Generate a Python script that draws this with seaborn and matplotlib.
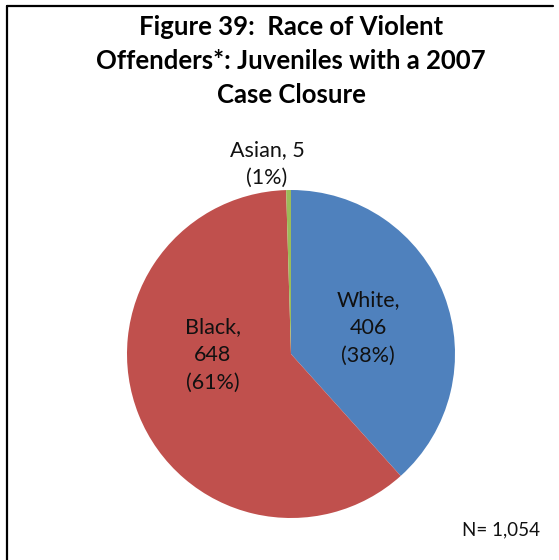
import matplotlib
matplotlib.use("Agg")
import matplotlib.pyplot as plt
import seaborn as sns
from matplotlib.lines import Line2D

# data
races = ["White", "Black", "Asian"]
counts = [406, 648, 5]
pct_labels = ["38%", "61%", "1%"]
total_label = "N= 1,054"
title = "Figure 39:  Race of Violent\nOffenders*: Juveniles with a 2007\nCase Closure"

sns.set_theme(style="white")
plt.rcParams["font.family"] = ["Lato", "DejaVu Sans"]

colors = ["#4F81BD", "#C0504D", "#9BBB59"]

W, H = 559, 560
fig = plt.figure(figsize=(W / 100, H / 100), dpi=100)

# pie geometry in pixels
cx, cy, r = 291, 354, 164
ax = fig.add_axes([(cx - r) / W, 1 - (cy + r) / H, 2 * r / W, 2 * r / H])
ax.pie(counts, colors=colors, startangle=90, counterclock=False,
       wedgeprops=dict(linewidth=0))
ax.set_xlim(-1, 1)
ax.set_ylim(-1, 1)
ax.set_aspect("equal", adjustable="box")

# label positions (in radius units from the centre)
label_pos = {"White": (0.47, 0.16, "{n},\n{c}\n({p})"),
             "Black": (-0.476, -0.006, "{n},\n{c}\n({p})"),
             "Asian": (-0.146, 1.16, "{n}, {c}\n({p})")}
for name, c, p in zip(races, counts, pct_labels):
    x, y, fmt = label_pos[name]
    ax.text(x, y, fmt.format(n=name, c=c, p=p), ha="center", va="center",
            fontsize=15.5, color="#111111", linespacing=1.5, clip_on=False)

fig.text(291 / W, 1 - 61 / H, title, ha="center", va="center",
         fontsize=18.5, fontweight="bold", color="#000000", linespacing=1.5)
fig.text(540 / W, 1 - 530 / H, total_label, ha="right", va="center",
         fontsize=13.5, color="#111111")

# chart frame (only top and left edges visible)
fig.add_artist(Line2D([7 / W, 553 / W], [1 - 6 / H, 1 - 6 / H],
                      transform=fig.transFigure, color="black", linewidth=1.6))
fig.add_artist(Line2D([7 / W, 7 / W], [1 - 6 / H, 0],
                      transform=fig.transFigure, color="black", linewidth=1.6))

fig.savefig("out.png", dpi=100)
